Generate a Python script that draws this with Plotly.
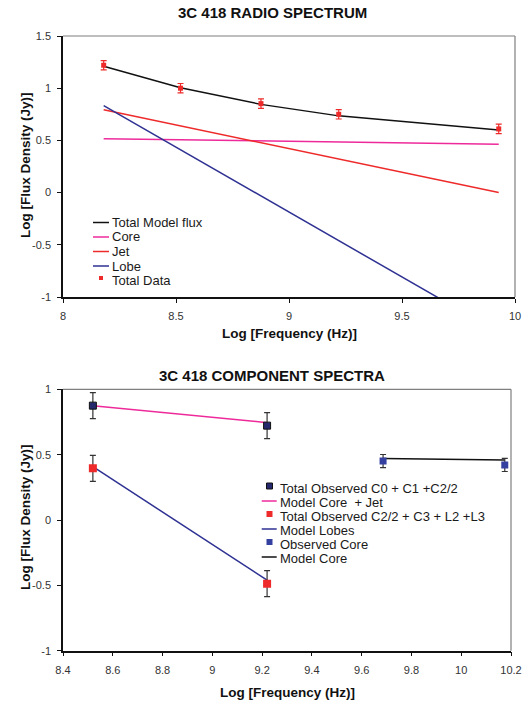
import plotly.graph_objects as go

# ---------------- data ----------------
# Top panel: 3C 418 radio spectrum
freq_top = [8.18, 8.52, 8.876, 9.22, 9.928]
total_data = [1.22, 1.00, 0.852, 0.75, 0.61]
total_data_err = [0.045, 0.045, 0.045, 0.045, 0.045]
total_model = [1.21, 1.005, 0.845, 0.735, 0.60]
core_model = [0.517, 0.506, 0.495, 0.485, 0.463]
jet_model = [0.794, 0.640, 0.478, 0.322, 0.0]
lobe_model = [0.833, 0.410, -0.033, -0.461, -1.34]

top_xticks = [8, 8.5, 9, 9.5, 10]
top_xtext = ["8", "8.5", "9", "9.5", "10"]
top_yticks = [-1, -0.5, 0, 0.5, 1, 1.5]
top_ytext = ["-1", "-0.5", "0", "0.5", "1", "1.5"]

# Bottom panel: component spectra
freq_cj = [8.52, 9.22]
obs_core_jet = [0.875, 0.722]
obs_core_jet_err = [0.10, 0.10]
model_core_jet = [0.875, 0.745]
obs_lobes = [0.395, -0.487]
obs_lobes_err = [0.10, 0.10]
model_lobes = [0.408, -0.46]
freq_core = [9.686, 10.175]
obs_core = [0.451, 0.421]
obs_core_err = [0.05, 0.05]
model_core = [0.47, 0.459]

bot_xticks = [8.4, 8.6, 8.8, 9.0, 9.2, 9.4, 9.6, 9.8, 10.0, 10.2]
bot_xtext = ["8.4", "8.6", "8.8", "9", "9.2", "9.4", "9.6", "9.8", "10", "10.2"]
bot_yticks = [-1, -0.5, 0, 0.5, 1]
bot_ytext = ["-1", "-0.5", "0", "0.5", "1"]

top_title = "3C 418 RADIO SPECTRUM"
bot_title = "3C 418 COMPONENT SPECTRA"
x_title = "Log [Frequency (Hz)]"
y_title = "Log [Flux Density (Jy)]"

top_legend = ["Total Model flux", "Core", "Jet", "Lobe", "Total Data"]
bot_legend = ["Total Observed C0 + C1 +C2/2", "Model Core  + Jet",
              "Total Observed C2/2 + C3 + L2 +L3", "Model Lobes",
              "Observed Core", "Model Core"]

# ---------------- styling ----------------
W, H = 522, 705
FONT = "Liberation Sans, Arial, sans-serif"
BLACK = "#111111"
PINK = "#ee2a9b"
RED = "#ee2a2a"
NAVY = "#2e3192"
DARKNAVY = "#26286e"
BLUE = "#3340a0"


def px(x):
    return x / W


def py(y):
    return 1 - y / H


top_dom_x = [px(63), px(515)]
top_dom_y = [py(297), py(36)]
bot_dom_x = [px(63), px(511)]
bot_dom_y = [py(650.7), py(389.3)]

fig = go.Figure()

# top panel traces
fig.add_trace(go.Scatter(x=freq_top, y=total_model, mode="lines", line=dict(color=BLACK, width=1.5),
                         name=top_legend[0], xaxis="x", yaxis="y", showlegend=False))
fig.add_trace(go.Scatter(x=freq_top, y=core_model, mode="lines", line=dict(color=PINK, width=1.5),
                         name=top_legend[1], xaxis="x", yaxis="y", showlegend=False))
fig.add_trace(go.Scatter(x=freq_top, y=jet_model, mode="lines", line=dict(color=RED, width=1.5),
                         name=top_legend[2], xaxis="x", yaxis="y", showlegend=False))
fig.add_trace(go.Scatter(x=freq_top, y=lobe_model, mode="lines", line=dict(color=NAVY, width=1.5),
                         name=top_legend[3], xaxis="x", yaxis="y", showlegend=False))
fig.add_trace(go.Scatter(x=freq_top, y=total_data, mode="markers",
                         marker=dict(symbol="square", size=5, color=RED),
                         error_y=dict(type="data", array=total_data_err, color=RED, thickness=1.2, width=3),
                         name=top_legend[4], xaxis="x", yaxis="y", showlegend=False))

# bottom panel traces
fig.add_trace(go.Scatter(x=freq_cj, y=model_core_jet, mode="lines", line=dict(color=PINK, width=1.5),
                         name=bot_legend[1], xaxis="x2", yaxis="y2", showlegend=False))
fig.add_trace(go.Scatter(x=freq_cj, y=model_lobes, mode="lines", line=dict(color=NAVY, width=1.5),
                         name=bot_legend[3], xaxis="x2", yaxis="y2", showlegend=False))
fig.add_trace(go.Scatter(x=freq_core, y=model_core, mode="lines", line=dict(color=BLACK, width=1.5),
                         name=bot_legend[5], xaxis="x2", yaxis="y2", showlegend=False))
fig.add_trace(go.Scatter(x=freq_cj, y=obs_core_jet, mode="markers",
                         marker=dict(symbol="square", size=7, color=DARKNAVY, line=dict(color=BLACK, width=1)),
                         error_y=dict(type="data", array=obs_core_jet_err, color="#333333", thickness=1.2, width=3),
                         name=bot_legend[0], xaxis="x2", yaxis="y2", showlegend=False))
fig.add_trace(go.Scatter(x=freq_cj, y=obs_lobes, mode="markers",
                         marker=dict(symbol="square", size=8, color=RED),
                         error_y=dict(type="data", array=obs_lobes_err, color="#333333", thickness=1.2, width=3),
                         name=bot_legend[2], xaxis="x2", yaxis="y2", showlegend=False))
fig.add_trace(go.Scatter(x=freq_core, y=obs_core, mode="markers",
                         marker=dict(symbol="square", size=7, color=BLUE),
                         error_y=dict(type="data", array=obs_core_err, color="#333333", thickness=1.2, width=3),
                         name=bot_legend[4], xaxis="x2", yaxis="y2", showlegend=False))

tickfont = dict(family=FONT, size=11, color="#333333")
axis_common = dict(showgrid=False, zeroline=False, showline=True, linecolor=BLACK, linewidth=1.5,
                   ticks="outside", ticklen=4, tickcolor=BLACK, tickwidth=1, tickfont=tickfont,
                   tickmode="array", ticklabelstandoff=4, automargin=False)

fig.update_layout(
    width=W, height=H, margin=dict(l=0, r=0, t=0, b=0, autoexpand=False),
    paper_bgcolor="white", plot_bgcolor="white", showlegend=False,
    xaxis=dict(domain=top_dom_x, range=[8, 10], tickvals=top_xticks, ticktext=top_xtext,
               anchor="y", **axis_common),
    yaxis=dict(domain=top_dom_y, range=[-1, 1.5], tickvals=top_yticks, ticktext=top_ytext,
               anchor="x", **axis_common),
    xaxis2=dict(domain=bot_dom_x, range=[8.4, 10.2], tickvals=bot_xticks, ticktext=bot_xtext,
                anchor="y2", **axis_common),
    yaxis2=dict(domain=bot_dom_y, range=[-1, 1], tickvals=bot_yticks, ticktext=bot_ytext,
                anchor="x2", **axis_common),
)

shapes = []
annotations = []
# gray top/right frame lines
for xa, ya in (("x", "y"), ("x2", "y2")):
    shapes.append(dict(type="line", xref=f"{xa} domain", yref=f"{ya} domain", x0=0, x1=1, y0=1, y1=1,
                       line=dict(color="#7f7f7f", width=1.2)))
    shapes.append(dict(type="line", xref=f"{xa} domain", yref=f"{ya} domain", x0=1, x1=1, y0=0, y1=1,
                       line=dict(color="#7f7f7f", width=1.2)))

# titles
title_font = dict(family=FONT, size=15, color=BLACK)
axt_font = dict(family=FONT, size=13.5, color=BLACK)
annotations.append(dict(text=f"<b>{top_title}</b>", x=px(272), y=py(12), xref="paper", yref="paper",
                        showarrow=False, font=title_font, xanchor="center", yanchor="middle"))
annotations.append(dict(text=f"<b>{bot_title}</b>", x=px(272), y=py(375), xref="paper", yref="paper",
                        showarrow=False, font=title_font, xanchor="center", yanchor="middle"))
annotations.append(dict(text=f"<b>{x_title}</b>", x=px(289), y=py(333), xref="paper", yref="paper",
                        showarrow=False, font=axt_font, xanchor="center", yanchor="middle"))
annotations.append(dict(text=f"<b>{x_title}</b>", x=px(287), y=py(692), xref="paper", yref="paper",
                        showarrow=False, font=axt_font, xanchor="center", yanchor="middle"))
annotations.append(dict(text=f"<b>{y_title}</b>", x=px(25), y=py(165), xref="paper", yref="paper",
                        showarrow=False, font=axt_font, textangle=-90, xanchor="center", yanchor="middle"))
annotations.append(dict(text=f"<b>{y_title}</b>", x=px(25), y=py(517), xref="paper", yref="paper",
                        showarrow=False, font=axt_font, textangle=-90, xanchor="center", yanchor="middle"))

top_font = dict(family=FONT, size=13, color="#1a1a1a")
bot_font = dict(family=FONT, size=13, color="#1a1a1a")

# top legend (compact, drawn with shapes + text)
top_rows = [222.5, 237.0, 251.5, 266.0, 280.5]
top_kinds = [("line", BLACK), ("line", PINK), ("line", RED), ("line", NAVY), ("marker", RED)]
for label, yy, (kind, col) in zip(top_legend, top_rows, top_kinds):
    if kind == "line":
        shapes.append(dict(type="line", xref="paper", yref="paper", x0=px(93), x1=px(109),
                           y0=py(yy), y1=py(yy), line=dict(color=col, width=1.5)))
    else:
        shapes.append(dict(type="rect", xref="paper", yref="paper", x0=px(99), x1=px(103),
                           y0=py(yy - 4.5), y1=py(yy - 0.5), fillcolor=col, line=dict(width=0)))
    annotations.append(dict(text=label, x=px(111), y=py(yy), xref="paper", yref="paper", showarrow=False,
                            font=top_font, xanchor="left", yanchor="middle", borderpad=0))

# bottom legend (compact, drawn with shapes + text)
bot_rows = [488.0, 502.0, 516.0, 530.0, 544.0, 558.0]
bot_kinds = [("marker", DARKNAVY), ("line", PINK), ("marker", RED), ("line", NAVY),
             ("marker", BLUE), ("line", BLACK)]
for label, yy, (kind, col) in zip(bot_legend, bot_rows, bot_kinds):
    if kind == "line":
        shapes.append(dict(type="line", xref="paper", yref="paper", x0=px(261.7), x1=px(276.7),
                           y0=py(yy - 1), y1=py(yy - 1), line=dict(color=col, width=1.5)))
    else:
        shapes.append(dict(type="rect", xref="paper", yref="paper", x0=px(266.5), x1=px(272.5),
                           y0=py(yy - 5), y1=py(yy + 1), fillcolor=col,
                           line=dict(width=1 if col == DARKNAVY else 0, color=BLACK)))
    annotations.append(dict(text=label, x=px(279.3), y=py(yy), xref="paper", yref="paper", showarrow=False,
                            font=bot_font, xanchor="left", yanchor="middle", borderpad=0))

fig.update_layout(shapes=shapes, annotations=annotations)

fig.write_html("out.html",
               post_script="document.body.style.margin='0';document.body.style.overflow='hidden';",
               config={"displayModeBar": False})
